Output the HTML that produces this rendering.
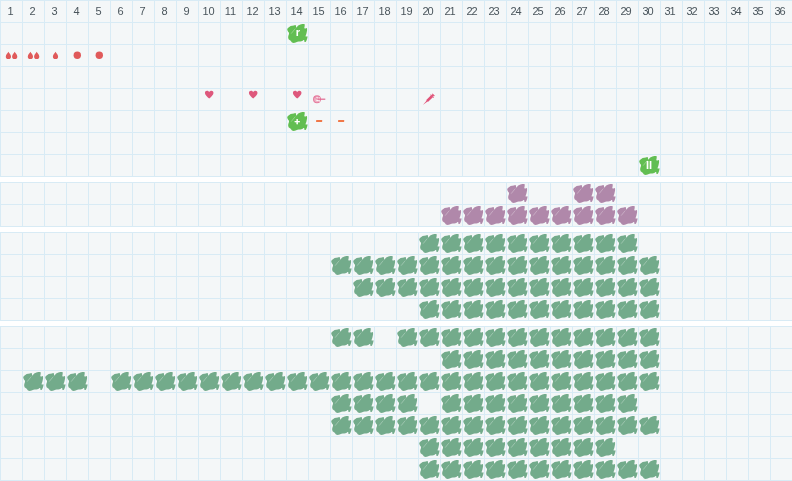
<!DOCTYPE html>
<html><head><meta charset="utf-8"><title>chart</title>
<style>
html,body{margin:0;padding:0;background:#fff;}
body{width:792px;height:481px;position:relative;overflow:hidden;font-family:"Liberation Sans",Arial,sans-serif;}
.sec{position:absolute;left:0;width:792px;background-color:#f4f7f8;
background-image:linear-gradient(to right,#d8ebf5 1px,transparent 1px),linear-gradient(to bottom,#d8ebf5 1px,transparent 1px);
background-size:22px 22px;}
.n{position:absolute;top:0;width:21px;height:22px;line-height:23px;text-align:center;font-size:11px;color:#4a555c;}
svg{position:absolute;left:0;top:0;}
.g{fill:#73ab8b;} .p{fill:#b088aa;} .k{fill:#62be52;}
.t{position:absolute;width:22px;text-align:center;color:#fff;font-weight:bold;font-size:11px;line-height:22px;height:22px;}
</style></head><body>
<div class="sec" style="top:0;height:177px"></div>
<div class="sec" style="top:182px;height:45px"></div>
<div class="sec" style="top:232px;height:89px"></div>
<div class="sec" style="top:326px;height:155px"></div>
<span class="n" style="left:0px">1</span><span class="n" style="left:22px">2</span><span class="n" style="left:44px">3</span><span class="n" style="left:66px">4</span><span class="n" style="left:88px">5</span><span class="n" style="left:110px">6</span><span class="n" style="left:132px">7</span><span class="n" style="left:154px">8</span><span class="n" style="left:176px">9</span><span class="n" style="left:198px">10</span><span class="n" style="left:220px">11</span><span class="n" style="left:242px">12</span><span class="n" style="left:264px">13</span><span class="n" style="left:286px">14</span><span class="n" style="left:308px">15</span><span class="n" style="left:330px">16</span><span class="n" style="left:352px">17</span><span class="n" style="left:374px">18</span><span class="n" style="left:396px">19</span><span class="n" style="left:417px;letter-spacing:-1.2px">20</span><span class="n" style="left:439px;letter-spacing:-1.2px">21</span><span class="n" style="left:461px;letter-spacing:-1.2px">22</span><span class="n" style="left:483px;letter-spacing:-1.2px">23</span><span class="n" style="left:505px;letter-spacing:-1.2px">24</span><span class="n" style="left:527px;letter-spacing:-1.2px">25</span><span class="n" style="left:549px;letter-spacing:-1.2px">26</span><span class="n" style="left:571px;letter-spacing:-1.2px">27</span><span class="n" style="left:593px;letter-spacing:-1.2px">28</span><span class="n" style="left:615px;letter-spacing:-1.2px">29</span><span class="n" style="left:637px;letter-spacing:-1.2px">30</span><span class="n" style="left:659px;letter-spacing:-1.2px">31</span><span class="n" style="left:681px;letter-spacing:-1.2px">32</span><span class="n" style="left:703px;letter-spacing:-1.2px">33</span><span class="n" style="left:725px;letter-spacing:-1.2px">34</span><span class="n" style="left:747px;letter-spacing:-1.2px">35</span><span class="n" style="left:769px;letter-spacing:-1.2px">36</span>
<svg width="792" height="481" viewBox="0 0 792 481">
<defs>
<symbol id="b" viewBox="0 0 22 22" width="22" height="22" overflow="visible">
<polygon points="1.2,7.2 1.7,6.2 2.9,5.3 4.0,4.55 4.6,4.0 6.2,3.85 7.9,3.45 9.2,3.0 9.8,3.2 10.0,4.3 10.3,5.8 11.1,4.7 12.2,3.55 14.4,2.4 16.3,1.9 18.2,2.0 18.75,2.6 18.65,4.3 18.3,5.65 18.9,6.7 19.9,6.3 20.7,6.0 21.05,6.7 21.05,8.4 20.7,10.3 20.3,12.0 19.7,13.6 19.6,14.4 20.7,14.6 21.5,14.25 21.4,15.8 20.9,17.5 20.3,18.9 19.6,19.9 18.55,19.9 18.3,18.9 18.2,18.1 17.5,18.1 16.3,18.9 14.4,19.5 12.7,19.4 11.5,19.7 9.6,20.5 7.7,21 6.0,20.6 5.2,19.6 4.7,18.8 3.6,18.1 2.6,17.2 2.15,15.5 2.3,13.9 3.0,12.0 3.0,10.8 2.15,9.8 1.5,8.6" stroke-linejoin="round"/>
<path d="M5.2,11.6 L8.8,7.1" stroke="#fff" stroke-opacity=".5" stroke-width=".6" fill="none"/><path d="M8.8,7.1 L10.3,5.6" stroke="#fff" stroke-opacity=".2" stroke-width=".6" fill="none"/>
</symbol>
<symbol id="drop" viewBox="-3 -4 6 8" width="6" height="8" overflow="visible">
<path d="M0,-3.7 C0.9,-2.2 2.6,-0.6 2.6,1.1 A2.6,2.6 0 0 1 -2.6,1.1 C-2.6,-0.6 -0.9,-2.2 0,-3.7Z"/>
</symbol>
<symbol id="heart" viewBox="-5 -4 10 9" width="10" height="9" overflow="visible">
<path d="M0,3.9 C-1.5,2.5 -4.3,0.4 -4.3,-1.7 C-4.3,-3.1 -3.3,-3.9 -2.2,-3.9 C-1.2,-3.9 -0.4,-3.3 0,-2.5 C0.4,-3.3 1.2,-3.9 2.2,-3.9 C3.3,-3.9 4.3,-3.1 4.3,-1.7 C4.3,0.4 1.5,2.5 0,3.9Z"/>
</symbol>
</defs>
<!-- section 1 icons -->
<use href="#b" class="k" x="286" y="22"/>
<use href="#b" class="k" x="286" y="110"/>
<use href="#b" class="k" x="638" y="154"/>
<g fill="#e05a5a">
<use href="#drop" x="5.4" y="51.4"/><use href="#drop" x="11.7" y="51.4"/>
<use href="#drop" x="27.4" y="51.4"/><use href="#drop" x="33.7" y="51.4"/>
<use href="#drop" x="52.5" y="51.4"/>
<circle cx="77.3" cy="55.2" r="3.7"/><circle cx="99.3" cy="55.2" r="3.7"/>
</g>
<g fill="#de587c">
<use href="#heart" x="204.2" y="90.6"/><use href="#heart" x="248.2" y="90.6"/><use href="#heart" x="292.2" y="90.6"/>
</g>
<!-- egg + needle -->
<g>
<circle cx="317" cy="99.3" r="3.4" fill="#efb3c6" stroke="#e57a9d" stroke-width="1.1"/>
<path d="M316.3,97.2 h1.5 v1.6 h-1.5z M316.3,100.0 h2.4 v1.0 h-2.4z M319.2,97.2 h.7 v4.6 h-.7z" fill="#fbf3f5"/>
<path d="M314.3,97.2 L318,99.2" stroke="#e57a9d" stroke-width=".7" fill="none"/>
<path d="M317.8,99.2 H325.3" stroke="#e26a91" stroke-width="1.25" fill="none"/>
</g>
<!-- syringe -->
<g fill="#e05278" stroke="none" transform="translate(423.1,104.8) rotate(-43.8)">
<path d="M0,0 L5.6,-0.65 L5.6,0.65 Z"/>
<rect x="5.4" y="-1.35" width="6.8" height="2.7" rx=".3"/>
<rect x="12.0" y="-2.2" width=".9" height="4.4"/>
<rect x="12.7" y="-1.1" width="1.6" height="2.2"/>
<rect x="14.0" y="-1.6" width=".7" height="3.2"/>
</g>
<!-- dashes -->
<rect x="316" y="120.1" width="6.2" height="1.9" rx=".4" fill="#f07848"/>
<rect x="338" y="120.1" width="6.2" height="1.9" rx=".4" fill="#f07848"/>
<!-- section 2 -->
<use href="#b" class="p" x="506" y="182"/>
<use href="#b" class="p" x="572" y="182"/>
<use href="#b" class="p" x="594" y="182"/>
<use href="#b" class="p" x="440" y="204"/>
<use href="#b" class="p" x="462" y="204"/>
<use href="#b" class="p" x="484" y="204"/>
<use href="#b" class="p" x="506" y="204"/>
<use href="#b" class="p" x="528" y="204"/>
<use href="#b" class="p" x="550" y="204"/>
<use href="#b" class="p" x="572" y="204"/>
<use href="#b" class="p" x="594" y="204"/>
<use href="#b" class="p" x="616" y="204"/>
<!-- section 3 -->
<use href="#b" class="g" x="418" y="232"/>
<use href="#b" class="g" x="440" y="232"/>
<use href="#b" class="g" x="462" y="232"/>
<use href="#b" class="g" x="484" y="232"/>
<use href="#b" class="g" x="506" y="232"/>
<use href="#b" class="g" x="528" y="232"/>
<use href="#b" class="g" x="550" y="232"/>
<use href="#b" class="g" x="572" y="232"/>
<use href="#b" class="g" x="594" y="232"/>
<use href="#b" class="g" x="616" y="232"/>
<use href="#b" class="g" x="330" y="254"/>
<use href="#b" class="g" x="352" y="254"/>
<use href="#b" class="g" x="374" y="254"/>
<use href="#b" class="g" x="396" y="254"/>
<use href="#b" class="g" x="418" y="254"/>
<use href="#b" class="g" x="440" y="254"/>
<use href="#b" class="g" x="462" y="254"/>
<use href="#b" class="g" x="484" y="254"/>
<use href="#b" class="g" x="506" y="254"/>
<use href="#b" class="g" x="528" y="254"/>
<use href="#b" class="g" x="550" y="254"/>
<use href="#b" class="g" x="572" y="254"/>
<use href="#b" class="g" x="594" y="254"/>
<use href="#b" class="g" x="616" y="254"/>
<use href="#b" class="g" x="638" y="254"/>
<use href="#b" class="g" x="352" y="276"/>
<use href="#b" class="g" x="374" y="276"/>
<use href="#b" class="g" x="396" y="276"/>
<use href="#b" class="g" x="418" y="276"/>
<use href="#b" class="g" x="440" y="276"/>
<use href="#b" class="g" x="462" y="276"/>
<use href="#b" class="g" x="484" y="276"/>
<use href="#b" class="g" x="506" y="276"/>
<use href="#b" class="g" x="528" y="276"/>
<use href="#b" class="g" x="550" y="276"/>
<use href="#b" class="g" x="572" y="276"/>
<use href="#b" class="g" x="594" y="276"/>
<use href="#b" class="g" x="616" y="276"/>
<use href="#b" class="g" x="638" y="276"/>
<use href="#b" class="g" x="418" y="298"/>
<use href="#b" class="g" x="440" y="298"/>
<use href="#b" class="g" x="462" y="298"/>
<use href="#b" class="g" x="484" y="298"/>
<use href="#b" class="g" x="506" y="298"/>
<use href="#b" class="g" x="528" y="298"/>
<use href="#b" class="g" x="550" y="298"/>
<use href="#b" class="g" x="572" y="298"/>
<use href="#b" class="g" x="594" y="298"/>
<use href="#b" class="g" x="616" y="298"/>
<use href="#b" class="g" x="638" y="298"/>
<!-- section 4 -->
<use href="#b" class="g" x="330" y="326"/>
<use href="#b" class="g" x="352" y="326"/>
<use href="#b" class="g" x="396" y="326"/>
<use href="#b" class="g" x="418" y="326"/>
<use href="#b" class="g" x="440" y="326"/>
<use href="#b" class="g" x="462" y="326"/>
<use href="#b" class="g" x="484" y="326"/>
<use href="#b" class="g" x="506" y="326"/>
<use href="#b" class="g" x="528" y="326"/>
<use href="#b" class="g" x="550" y="326"/>
<use href="#b" class="g" x="572" y="326"/>
<use href="#b" class="g" x="594" y="326"/>
<use href="#b" class="g" x="616" y="326"/>
<use href="#b" class="g" x="638" y="326"/>
<use href="#b" class="g" x="440" y="348"/>
<use href="#b" class="g" x="462" y="348"/>
<use href="#b" class="g" x="484" y="348"/>
<use href="#b" class="g" x="506" y="348"/>
<use href="#b" class="g" x="528" y="348"/>
<use href="#b" class="g" x="550" y="348"/>
<use href="#b" class="g" x="572" y="348"/>
<use href="#b" class="g" x="594" y="348"/>
<use href="#b" class="g" x="616" y="348"/>
<use href="#b" class="g" x="638" y="348"/>
<use href="#b" class="g" x="22" y="370"/>
<use href="#b" class="g" x="44" y="370"/>
<use href="#b" class="g" x="66" y="370"/>
<use href="#b" class="g" x="110" y="370"/>
<use href="#b" class="g" x="132" y="370"/>
<use href="#b" class="g" x="154" y="370"/>
<use href="#b" class="g" x="176" y="370"/>
<use href="#b" class="g" x="198" y="370"/>
<use href="#b" class="g" x="220" y="370"/>
<use href="#b" class="g" x="242" y="370"/>
<use href="#b" class="g" x="264" y="370"/>
<use href="#b" class="g" x="286" y="370"/>
<use href="#b" class="g" x="308" y="370"/>
<use href="#b" class="g" x="330" y="370"/>
<use href="#b" class="g" x="352" y="370"/>
<use href="#b" class="g" x="374" y="370"/>
<use href="#b" class="g" x="396" y="370"/>
<use href="#b" class="g" x="418" y="370"/>
<use href="#b" class="g" x="440" y="370"/>
<use href="#b" class="g" x="462" y="370"/>
<use href="#b" class="g" x="484" y="370"/>
<use href="#b" class="g" x="506" y="370"/>
<use href="#b" class="g" x="528" y="370"/>
<use href="#b" class="g" x="550" y="370"/>
<use href="#b" class="g" x="572" y="370"/>
<use href="#b" class="g" x="594" y="370"/>
<use href="#b" class="g" x="616" y="370"/>
<use href="#b" class="g" x="638" y="370"/>
<use href="#b" class="g" x="330" y="392"/>
<use href="#b" class="g" x="352" y="392"/>
<use href="#b" class="g" x="374" y="392"/>
<use href="#b" class="g" x="396" y="392"/>
<use href="#b" class="g" x="440" y="392"/>
<use href="#b" class="g" x="462" y="392"/>
<use href="#b" class="g" x="484" y="392"/>
<use href="#b" class="g" x="506" y="392"/>
<use href="#b" class="g" x="528" y="392"/>
<use href="#b" class="g" x="550" y="392"/>
<use href="#b" class="g" x="572" y="392"/>
<use href="#b" class="g" x="594" y="392"/>
<use href="#b" class="g" x="616" y="392"/>
<use href="#b" class="g" x="330" y="414"/>
<use href="#b" class="g" x="352" y="414"/>
<use href="#b" class="g" x="374" y="414"/>
<use href="#b" class="g" x="396" y="414"/>
<use href="#b" class="g" x="418" y="414"/>
<use href="#b" class="g" x="440" y="414"/>
<use href="#b" class="g" x="462" y="414"/>
<use href="#b" class="g" x="484" y="414"/>
<use href="#b" class="g" x="506" y="414"/>
<use href="#b" class="g" x="528" y="414"/>
<use href="#b" class="g" x="550" y="414"/>
<use href="#b" class="g" x="572" y="414"/>
<use href="#b" class="g" x="594" y="414"/>
<use href="#b" class="g" x="616" y="414"/>
<use href="#b" class="g" x="638" y="414"/>
<use href="#b" class="g" x="418" y="436"/>
<use href="#b" class="g" x="440" y="436"/>
<use href="#b" class="g" x="462" y="436"/>
<use href="#b" class="g" x="484" y="436"/>
<use href="#b" class="g" x="506" y="436"/>
<use href="#b" class="g" x="528" y="436"/>
<use href="#b" class="g" x="550" y="436"/>
<use href="#b" class="g" x="572" y="436"/>
<use href="#b" class="g" x="594" y="436"/>
<use href="#b" class="g" x="418" y="458"/>
<use href="#b" class="g" x="440" y="458"/>
<use href="#b" class="g" x="462" y="458"/>
<use href="#b" class="g" x="484" y="458"/>
<use href="#b" class="g" x="506" y="458"/>
<use href="#b" class="g" x="528" y="458"/>
<use href="#b" class="g" x="550" y="458"/>
<use href="#b" class="g" x="572" y="458"/>
<use href="#b" class="g" x="594" y="458"/>
<use href="#b" class="g" x="616" y="458"/>
<use href="#b" class="g" x="638" y="458"/>
</svg>
<span class="t" style="left:287px;top:21.2px">r</span>
<span class="t" style="left:286.3px;top:111.1px;font-size:9.5px;-webkit-text-stroke:.35px #fff">+</span>
<span class="t" style="left:638px;top:154px;letter-spacing:0">II</span>
</body></html>
